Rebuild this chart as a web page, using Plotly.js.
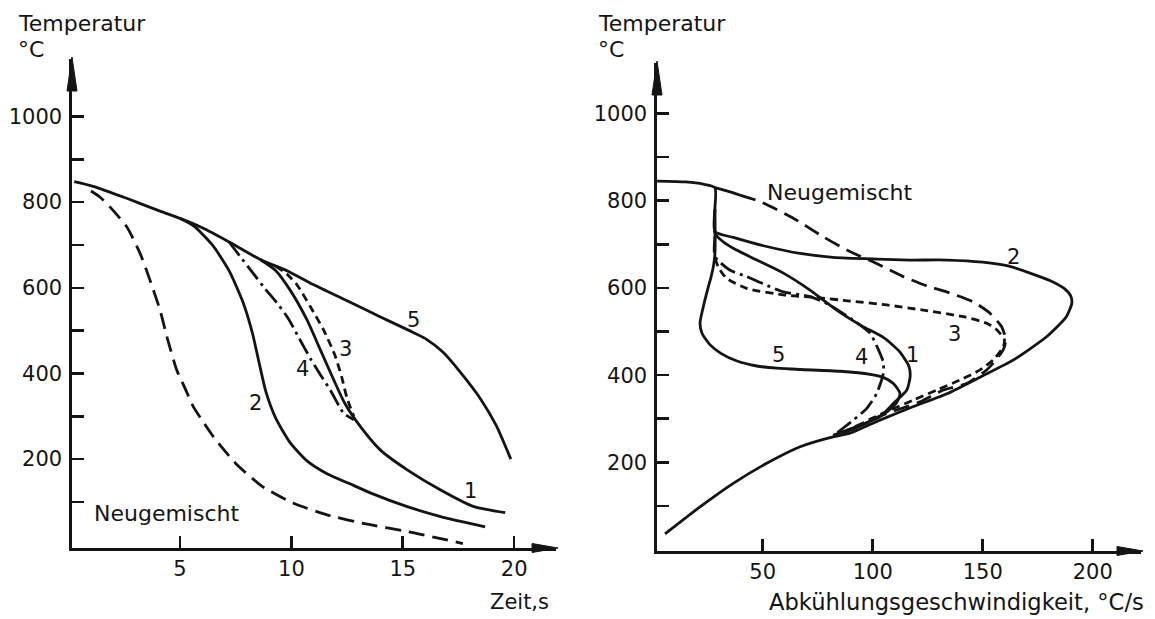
<!DOCTYPE html>
<html>
<head>
<meta charset="utf-8">
<script src="https://cdn.plot.ly/plotly-3.0.1.min.js"></script>
<style>html,body{margin:0;padding:0;background:#fff;}#chart{width:1155px;height:619px;}</style>
</head>
<body>
<div id="chart"></div>
<script>
// ---------- Left panel: Temperatur (°C) over Zeit (s) ----------
const c5_t = [0.25, 1.1, 2.6, 4.1, 5.0, 6.0, 7.2, 8.6, 9.8, 11.0, 12.5, 14.0, 15.3, 16.0, 16.8, 17.6, 18.5, 19.2, 19.85];
const c5_T = [848, 837, 809, 779, 762, 740, 707, 666, 640, 607, 570, 532, 500, 482, 450, 402, 340, 278, 200];

const c2_t = [5.0, 5.6, 6.45, 7.2, 7.85, 8.25, 8.55, 8.85, 9.3, 9.95, 10.7, 11.6, 12.6, 13.6, 15.2, 16.7, 18.7];
const c2_T = [762, 745, 700, 640, 563, 494, 425, 358, 295, 238, 196, 166, 143, 120, 89, 66, 42];

const c1_t = [8.6, 9.3, 9.95, 10.7, 11.3, 11.9, 12.4, 13.1, 14.0, 15.2, 16.7, 18.2, 19.6];
const c1_T = [666, 640, 594, 525, 455, 385, 330, 276, 221, 175, 128, 89, 75];

const c3_t = [9.3, 9.8, 10.25, 10.85, 11.45, 11.95, 12.25, 12.5, 12.8];
const c3_T = [650, 632, 607, 556, 501, 443, 393, 342, 300];

const c4_t = [7.2, 7.7, 8.25, 8.8, 9.35, 9.85, 10.35, 10.85, 11.3, 11.75, 12.35, 12.8];
const c4_T = [707, 673, 636, 599, 565, 529, 482, 435, 397, 361, 307, 292];

const neuL_t = [1.0, 1.4, 1.85, 2.6, 3.2, 3.65, 4.1, 4.45, 4.85, 5.2, 5.6, 6.0, 6.5, 7.5, 8.7, 10.1, 11.6, 13.4, 15.2, 17.7];
const neuL_T = [826, 812, 789, 743, 681, 618, 548, 478, 408, 368, 322, 290, 252, 190, 136, 97, 70, 48, 31, 3];

// ---------- Right panel: Temperatur (°C) over Abkühlungsgeschwindigkeit (°C/s) ----------
const r2_v = [2, 15, 23, 28.3, 28.3, 36.6, 51.8, 67, 82, 102, 117, 134, 150, 162, 171.5, 181, 187, 190, 190.5, 188, 179, 164, 149, 134, 118.5, 103.3, 89.7, 80.6, 67, 51.8, 36.6, 21.5, 5.6];
const r2_T = [845, 843, 838, 830, 729, 716, 695, 679, 670, 666, 664, 664, 659, 650, 634, 616, 599, 582, 565, 534, 488, 435, 396, 358, 328, 297, 267, 257, 236, 198, 152, 98, 36];

const r1_v = [28.3, 28.3, 32, 36.6, 47.3, 59.4, 71.5, 83.6, 95, 105, 112, 116.5, 117, 115.5, 109.4, 103.3, 92.7, 82];
const r1_T = [780, 725, 706, 691, 664, 634, 595, 549, 513, 486, 455, 420, 396, 366, 335, 305, 282, 262];

const r3_v = [28.3, 30, 33.6, 42.7, 59.4, 74.5, 89.7, 106.4, 123, 141.2, 151.8, 156.4, 159.8, 159.4, 154.8, 148.8, 139.7, 129.1, 118.5, 107.9, 97];
const r3_T = [668, 646, 622, 599, 584, 578, 570, 561, 549, 534, 519, 504, 482, 465, 435, 412, 389, 366, 343, 320, 295];

const r4_v = [28.3, 28.3, 35, 42.7, 50, 59.4, 71.5, 80, 90, 98.8, 102, 104.8, 104.8, 101.8, 97.3, 91.2, 83.6];
const r4_T = [720, 672, 641, 626, 610, 591, 580, 562, 530, 496, 465, 430, 404, 358, 324, 297, 267];

const r5_v = [28.3, 28.3, 27.6, 26.5, 25.3, 23, 21.5, 22.5, 26, 31, 38, 47.3, 56.4, 67, 85.1, 98.8, 104.8, 109.4, 112.4, 111, 106, 97, 86];
const r5_T = [780, 680, 650, 625, 603, 557, 519, 495, 470, 450, 433, 421, 416, 413, 409, 402, 395, 381, 358, 338, 314, 290, 266];

const neuR_head_v = [28.3, 34, 39.7];
const neuR_head_T = [830, 822, 813];
const neuR_v = [39.7, 48.8, 63.9, 77.6, 88.2, 101.8, 113.9, 125, 133.6, 145.7, 153.3, 158.6, 160.5, 159.5, 157.1, 151.8, 142.7, 132.1, 121.5, 110.9, 100, 92];
const neuR_T = [813, 798, 760, 717, 687, 656, 626, 604, 591, 568, 542, 511, 481, 460, 442, 412, 381, 366, 339, 320, 300, 282];

// ---------- Tick labels ----------
const leftXTicks = [5, 10, 15, 20];
const rightXTicks = [50, 100, 150, 200];
const yTicks = [200, 400, 600, 800, 1000];
const yMinorTicks = [100, 300, 500, 700, 900];

// ---------- Curve labels ----------
const leftLabels = [
  {text: '5', x: 15.5, y: 524}, {text: '3', x: 12.45, y: 457}, {text: '4', x: 10.48, y: 410},
  {text: '2', x: 8.37, y: 331}, {text: '1', x: 18.06, y: 125}, {text: 'Neugemischt', x: 4.4, y: 74}
];
const rightLabels = [
  {text: 'Neugemischt', x: 85, y: 818}, {text: '2', x: 163.8, y: 671}, {text: '3', x: 137, y: 494},
  {text: '5', x: 57, y: 446}, {text: '4', x: 95.1, y: 442}, {text: '1', x: 117.9, y: 446}
];

const INK = '#141414';
const FONT = 'DejaVu Sans';
const W = 1155, H = 619;

function line(x, y, dash, xa, ya) {
  return {x: x, y: y, type: 'scatter', mode: 'lines', xaxis: xa, yaxis: ya,
    line: {color: INK, width: 2.8, dash: dash, shape: 'spline', smoothing: 0.6},
    hoverinfo: 'skip'};
}

const LONG = '16px,8px';
const SHORT = '8px,5px';
const DASHDOT = '17px,5px,3px,5px';

const traces = [
  line(c5_t, c5_T, 'solid', 'x', 'y'),
  line(c2_t, c2_T, 'solid', 'x', 'y'),
  line(c1_t, c1_T, 'solid', 'x', 'y'),
  line(c3_t, c3_T, SHORT, 'x', 'y'),
  line(c4_t, c4_T, DASHDOT, 'x', 'y'),
  line(neuL_t, neuL_T, LONG, 'x', 'y'),
  line(r2_v, r2_T, 'solid', 'x2', 'y2'),
  line(r1_v, r1_T, 'solid', 'x2', 'y2'),
  line(r3_v, r3_T, SHORT, 'x2', 'y2'),
  line(r4_v, r4_T, DASHDOT, 'x2', 'y2'),
  line(r5_v, r5_T, 'solid', 'x2', 'y2'),
  line(neuR_head_v, neuR_head_T, 'solid', 'x2', 'y2'),
  line(neuR_v, neuR_T, LONG, 'x2', 'y2')
];

function axisBase() {
  return {showline: true, linecolor: INK, linewidth: 2.6, ticks: 'inside', ticklen: 12,
    tickwidth: 2.6, tickcolor: INK, showgrid: false, zeroline: false, mirror: false,
    tickfont: {family: FONT, size: 21, color: INK}, fixedrange: true};
}

const xL = Object.assign(axisBase(), {domain: [72 / W, 556 / W], range: [0.148, 21.88], anchor: 'y',
  tickmode: 'array', tickvals: leftXTicks, ticklabelstandoff: 0});
const yL = Object.assign(axisBase(), {domain: [(H - 548) / H, (H - 59) / H], range: [-7.47, 1134.2], anchor: 'x',
  tickmode: 'array', tickvals: yTicks, ticklabelstandoff: 3,
  minor: {tickmode: 'array', tickvals: yMinorTicks, ticks: 'inside', ticklen: 12, tickwidth: 2.6, tickcolor: INK, showgrid: false}});
const xR = Object.assign(axisBase(), {domain: [657 / W, 1141 / W], range: [1.95, 221.95], anchor: 'y2',
  tickmode: 'array', tickvals: rightXTicks, ticklabelstandoff: 0});
const yR = Object.assign(axisBase(), {domain: [(H - 551) / H, (H - 63) / H], range: [-3.2, 1115.8], anchor: 'x2',
  tickmode: 'array', tickvals: yTicks, ticklabelstandoff: 3,
  minor: {tickmode: 'array', tickvals: yMinorTicks, ticks: 'inside', ticklen: 12, tickwidth: 2.6, tickcolor: INK, showgrid: false}});

const annotations = [];
function paperText(text, px, py, size) {
  annotations.push({text: text, xref: 'paper', yref: 'paper', x: px / W, y: 1 - py / H,
    xanchor: 'left', yanchor: 'middle', showarrow: false,
    font: {family: FONT, size: size, color: INK}});
}
paperText('Temperatur', 16, 24, 22);
paperText('°C', 16, 50, 22);
paperText('Temperatur', 596, 24, 22);
paperText('°C', 596, 49, 22);
paperText('Zeit,s', 488, 602, 21);
paperText('Abkühlungsgeschwindigkeit, °C/s', 767, 602, 22.6);

leftLabels.forEach(function (l) {
  annotations.push({text: l.text, xref: 'x', yref: 'y', x: l.x, y: l.y, showarrow: false,
    xanchor: 'center', yanchor: 'middle', font: {family: FONT, size: l.text.length > 2 ? 22 : 21, color: INK}});
});
rightLabels.forEach(function (l) {
  annotations.push({text: l.text, xref: 'x2', yref: 'y2', x: l.x, y: l.y, showarrow: false,
    xanchor: 'center', yanchor: 'middle', font: {family: FONT, size: l.text.length > 2 ? 22 : 21, color: INK}});
});

// axis arrow heads (pixel-sized, anchored at the axis ends)
function arrow(ax, ay, path) {
  return {type: 'path', xref: 'paper', yref: 'paper', xsizemode: 'pixel', ysizemode: 'pixel',
    xanchor: ax / W, yanchor: 1 - ay / H, path: path, fillcolor: INK, line: {color: INK, width: 1}, layer: 'above'};
}
const UP = 'M 0 2 L -5 -32 L 5 -32 Z';
const RIGHT = 'M 2 0 L -24 4.5 L -24 -4.5 Z';
const shapes = [
  arrow(72, 59, UP), arrow(556, 548, RIGHT),
  arrow(657, 63, UP), arrow(1141, 551, RIGHT)
];

const layout = {
  width: W, height: H, margin: {l: 0, r: 0, t: 0, b: 0},
  paper_bgcolor: '#ffffff', plot_bgcolor: 'rgba(0,0,0,0)', showlegend: false,
  xaxis: xL, yaxis: yL, xaxis2: xR, yaxis2: yR,
  annotations: annotations, shapes: shapes
};

Plotly.newPlot('chart', traces, layout, {staticPlot: true, displayModeBar: false});
</script>
</body>
</html>
